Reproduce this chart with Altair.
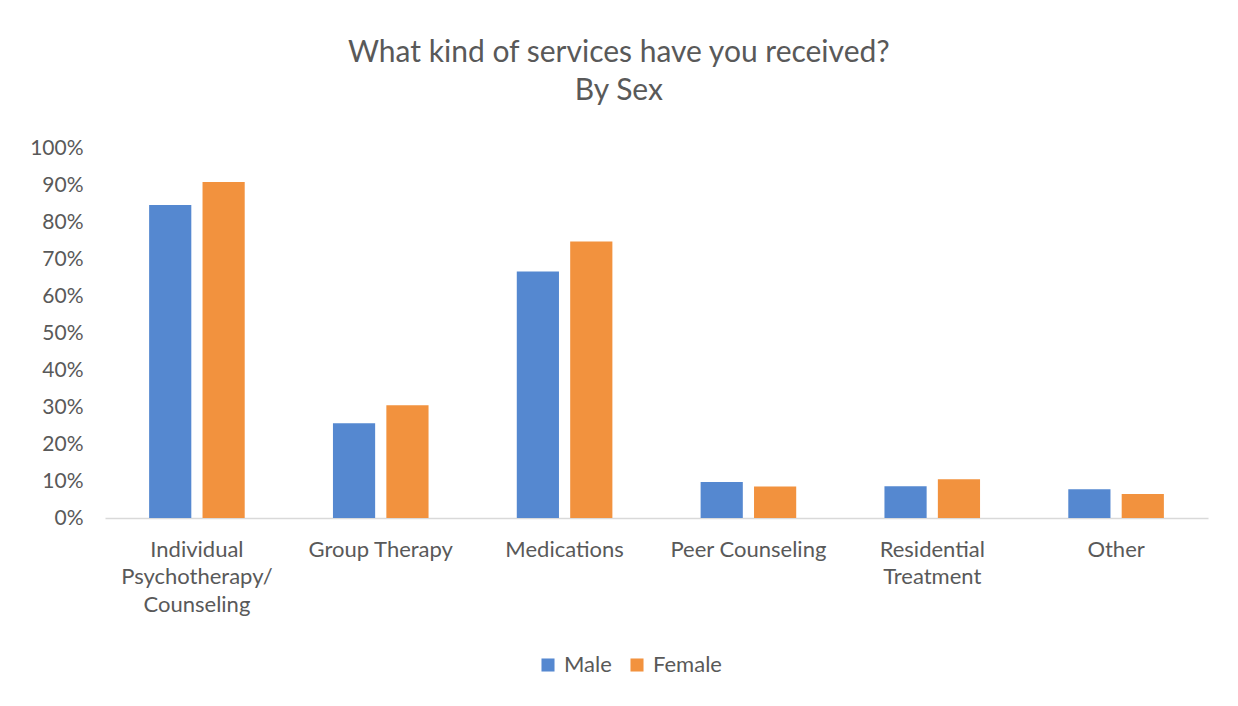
import altair as alt
import pandas as pd

categories = [
    "Individual\nPsychotherapy/\nCounseling",
    "Group Therapy",
    "Medications",
    "Peer Counseling",
    "Residential\nTreatment",
    "Other",
]
series = ["Male", "Female"]
male = [0.846, 0.256, 0.666, 0.097, 0.086, 0.078]
female = [0.908, 0.305, 0.747, 0.085, 0.105, 0.065]
y_ticks = [0, 0.1, 0.2, 0.3, 0.4, 0.5, 0.6, 0.7, 0.8, 0.9, 1.0]
colors = ["#5588D0", "#F2923E"]

rows = []
for c, m, f in zip(categories, male, female):
    rows.append({"category": c, "sex": "Male", "value": m})
    rows.append({"category": c, "sex": "Female", "value": f})
df = pd.DataFrame(rows)

FONT = "Lato"
GREY = "#595959"

chart = (
    alt.Chart(df)
    .mark_bar()
    .encode(
        x=alt.X(
            "category:N",
            sort=categories,
            scale=alt.Scale(paddingInner=0.48, paddingOuter=0.24),
            axis=alt.Axis(
                title=None,
                labelAngle=0,
                labelExpr="split(datum.label, '\\n')",
                labelFont=FONT,
                labelFontSize=22,
                labelColor=GREY,
                labelPadding=21,
                labelLineHeight=27.5,
                labelBaseline="top",
                ticks=False,
                domainColor="#D9D9D9",
                domainWidth=1.5,
                grid=False,
            ),
        ),
        xOffset=alt.XOffset("sex:N", sort=series, scale=alt.Scale(paddingInner=0.21)),
        y=alt.Y(
            "value:Q",
            scale=alt.Scale(domain=[0, 1]),
            axis=alt.Axis(
                title=None,
                values=y_ticks,
                format=".0%",
                labelFont=FONT,
                labelFontSize=21,
                labelColor=GREY,
                labelPadding=22,
                ticks=False,
                domain=False,
                grid=False,
            ),
        ),
        color=alt.Color(
            "sex:N",
            sort=series,
            scale=alt.Scale(domain=series, range=colors),
            legend=alt.Legend(
                title=None,
                orient="none",
                direction="horizontal",
                legendX=432,
                legendY=506,
                symbolType="square",
                symbolSize=170,
                symbolStrokeWidth=0,
                labelFont=FONT,
                labelFontSize=22,
                labelColor=GREY,
                labelOffset=5,
                columnPadding=14,
            ),
        ),
    )
    .properties(
        width=1103,
        height=370,
        padding={"left": 21, "top": 30, "right": 20, "bottom": 10},
        title=alt.TitleParams(
            ["What kind of services have you received?", "By Sex"],
            font=FONT,
            fontSize=30,
            fontWeight="normal",
            color=GREY,
            lineHeight=38,
            anchor="middle",
            frame="bounds",
            offset=31,
        ),
    )
    .configure_view(stroke=None)
)

chart.save("out.html", embed_options={"renderer": "svg", "actions": False})
